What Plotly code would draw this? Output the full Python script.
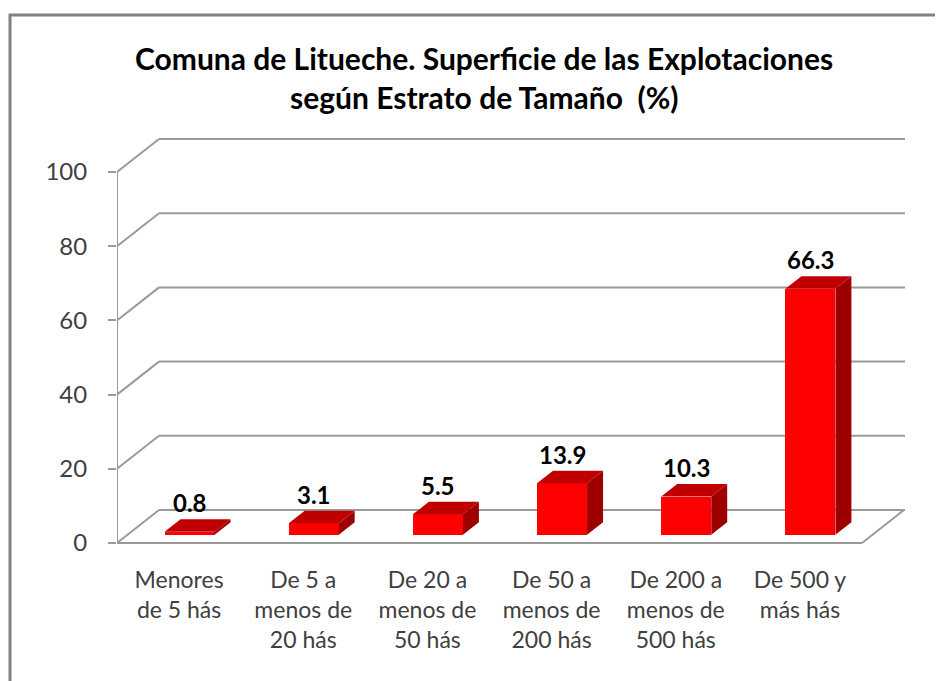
import plotly.graph_objects as go

# ---- data ----
categories = [
    "Menores<br>de 5 hás",
    "De 5 a<br>menos de<br>20 hás",
    "De 20 a<br>menos de<br>50 hás",
    "De 50 a<br>menos de<br>200 hás",
    "De 200 a<br>menos de<br>500 hás",
    "De 500 y<br>más hás",
]
values = [0.8, 3.1, 5.5, 13.9, 10.3, 66.3]
value_labels = ["0.8", "3.1", "5.5", "13.9", "10.3", "66.3"]
y_ticks = [0, 20, 40, 60, 80, 100]
title_lines = ["Comuna de Litueche. Superficie de las Explotaciones",
               "según Estrato de Tamaño  (%)"]

# ---- layout geometry (screen pixels; page body has an 8px margin) ----
OFF = 8
W, H = 943 - OFF, 681 - OFF
PL, PR, PT, PB = 117 - OFF, 905 - OFF, 120 - OFF, 560 - OFF   # plot area edges in figure px
PXX = 745 / 6                                 # px per category
PXY = (543 - 172) / 100                       # px per unit
Y0PX = 543 - OFF
x_range = [-0.5, -0.5 + (PR - PL) / PXX]
y_range = [-(PB - Y0PX) / PXY, (Y0PX - PT) / PXY]

def px_x(px):   # screen px -> paper x
    return (px - OFF - PL) / (PR - PL)

def px_y(py):   # screen px -> paper y
    return (PB - (py - OFF)) / (PB - PT)

DX = 42 / PXX        # depth offset of back wall, x units
DY = 33 / PXY        # depth offset of back wall, y units
F0, F1 = 0.25, 0.63  # bar front/back depth fractions
BW = 50 / PXX        # bar width

GRID = "#9a9a9a"
FRONT, TOP, SIDE = "#FF0000", "#C00000", "#9E0000"
FONT = "Lato"

idx = list(range(len(values)))
fig = go.Figure()

# front faces
fig.add_trace(go.Bar(
    x=[i + F0 * DX for i in idx], y=values, base=F0 * DY, width=BW,
    marker=dict(color=FRONT, line=dict(width=0)), showlegend=False,
    hoverinfo="skip"))

ddx, ddy = (F1 - F0) * DX, (F1 - F0) * DY
for i, v in zip(idx, values):
    xl = i + F0 * DX - BW / 2
    xr = xl + BW
    b = F0 * DY
    t = b + v
    fig.add_trace(go.Scatter(
        x=[xl, xl + ddx, xr + ddx, xr, xl], y=[t, t + ddy, t + ddy, t, t],
        fill="toself", fillcolor=TOP, mode="lines", line=dict(width=0, color=TOP),
        showlegend=False, hoverinfo="skip"))
    fig.add_trace(go.Scatter(
        x=[xr, xr + ddx, xr + ddx, xr, xr], y=[b, b + ddy, t + ddy, t, b],
        fill="toself", fillcolor=SIDE, mode="lines", line=dict(width=0, color=SIDE),
        showlegend=False, hoverinfo="skip"))

shapes = []
xL = -0.5
xRf = len(values) - 0.5
xRb = x_range[1]
for v in y_ticks:
    shapes.append(dict(type="line", xref="x", yref="y", x0=xL, y0=v, x1=xL + DX, y1=v + DY,
                       line=dict(color=GRID, width=2), layer="below"))
    shapes.append(dict(type="line", xref="x", yref="y", x0=xL + DX, y0=v + DY, x1=xRb, y1=v + DY,
                       line=dict(color=GRID, width=2), layer="below"))
shapes.append(dict(type="line", xref="x", yref="y", x0=xL, y0=0, x1=xRf, y1=0,
                   line=dict(color=GRID, width=2), layer="below"))
shapes.append(dict(type="line", xref="x", yref="y", x0=xRf, y0=0, x1=xRf + DX, y1=DY,
                   line=dict(color=GRID, width=2), layer="below"))
shapes.append(dict(type="line", xref="x", yref="y", x0=xL, y0=0, x1=xL, y1=y_ticks[-1],
                   line=dict(color=GRID, width=2), layer="below"))
# outer frame
shapes.append(dict(type="rect", xref="paper", yref="paper",
                   x0=px_x(10), x1=px_x(970), y0=px_y(700), y1=px_y(15),
                   line=dict(color="#808080", width=3), layer="below"))

annotations = []
for i, v, s in zip(idx, values, value_labels):
    annotations.append(dict(
        x=i + F0 * DX, y=v + F1 * DY, xref="x", yref="y", text=s, showarrow=False,
        yanchor="bottom", yshift=0,
        font=dict(family=FONT, size=24, color="#000000", weight="bold")))
for line, cy in zip(title_lines, [58, 97]):
    annotations.append(dict(
        x=px_x(484), y=px_y(cy), xref="paper", yref="paper", text=line, showarrow=False,
        xanchor="center", yanchor="middle",
        font=dict(family=FONT, size=30, color="#000000", weight="bold")))

fig.update_layout(
    width=W, height=H,
    margin=dict(l=PL, r=W - PR, t=PT, b=H - PB, pad=0),
    paper_bgcolor="white", plot_bgcolor="white",
    xaxis=dict(range=x_range, tickvals=idx, ticktext=categories, showgrid=False,
               zeroline=False, showline=False, ticks="", ticklabelstandoff=4, automargin=False,
               tickfont=dict(family=FONT, size=23, color="#404040"), fixedrange=True),
    yaxis=dict(range=y_range, tickvals=y_ticks, showgrid=False, zeroline=False,
               showline=False, ticks="outside", ticklen=8, tickcolor=GRID, tickwidth=2,
               ticklabelstandoff=16, automargin=False,
               tickfont=dict(family=FONT, size=24, color="#404040"), fixedrange=True),
    shapes=shapes, annotations=annotations, bargap=0,
)

fig.write_html("out.html")
